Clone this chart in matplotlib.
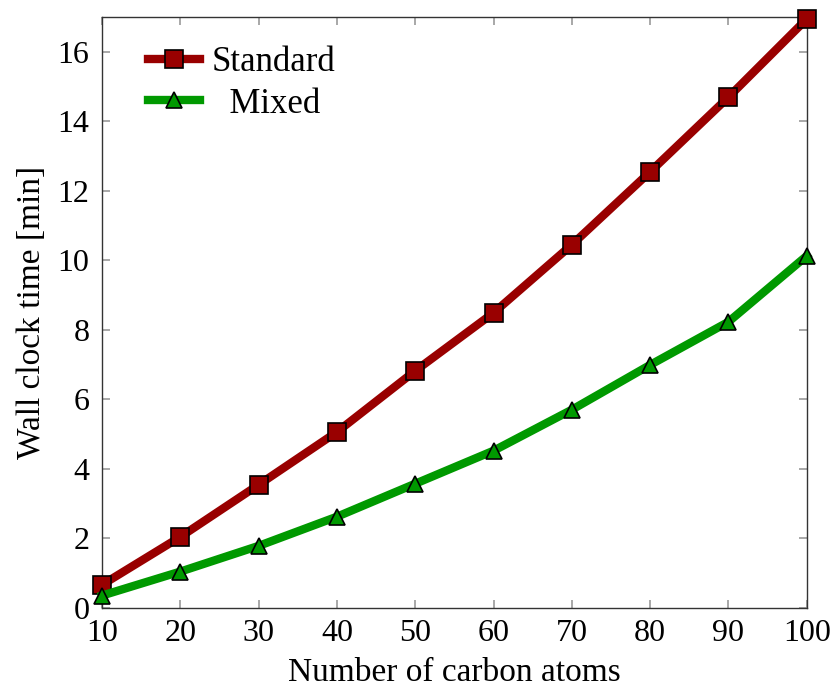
import matplotlib.pyplot as plt

# timings for both schemes
carbon_atoms = [10, 20, 30, 40, 50, 60, 70, 80, 90, 100]
standard_min = [0.66, 2.04, 3.54, 5.06, 6.82, 8.49, 10.45, 12.55, 14.70, 16.95]
mixed_min = [0.35, 1.04, 1.78, 2.62, 3.57, 4.52, 5.70, 6.99, 8.23, 10.13]

plt.rcParams["font.family"] = ["Liberation Serif", "DejaVu Serif"]
plt.rcParams["font.size"] = 24

fig, ax = plt.subplots(figsize=(8.3, 6.89), dpi=100)
fig.subplots_adjust(left=0.123, right=0.972, top=0.975, bottom=0.118)

ax.plot(carbon_atoms, standard_min, color="#990000", lw=6, marker="s",
        ms=13, mfc="#990000", mec="black", mew=1.2, label="Standard",
        clip_on=False, zorder=3)
ax.plot(carbon_atoms, mixed_min, color="#009900", lw=6, marker="^",
        ms=11, mfc="#009900", mec="black", mew=1.2, label="  Mixed",
        clip_on=False, zorder=3)

ax.set_xlim(10, 100)
ax.set_ylim(0, 17)
ax.set_xticks(carbon_atoms)
ax.set_yticks(range(0, 17, 2))
ax.tick_params(direction="in", top=True, right=True, length=6,
               color="#999999", width=1.2, labelsize=23)
ax.tick_params(axis="x", pad=8)
ax.tick_params(axis="y", pad=9)
for spine in ax.spines.values():
    spine.set_color("#333333")
    spine.set_linewidth(1.0)

ax.set_xlabel("Number of carbon atoms", labelpad=7)
ax.set_ylabel("Wall clock time [min]", labelpad=8)

ax.legend(loc="upper left", frameon=False, handlelength=1.5,
          handletextpad=0.35, borderaxespad=0.0, labelspacing=0.25,
          fontsize=25, bbox_to_anchor=(0.045, 0.975))

fig.savefig("out.png", dpi=100)
